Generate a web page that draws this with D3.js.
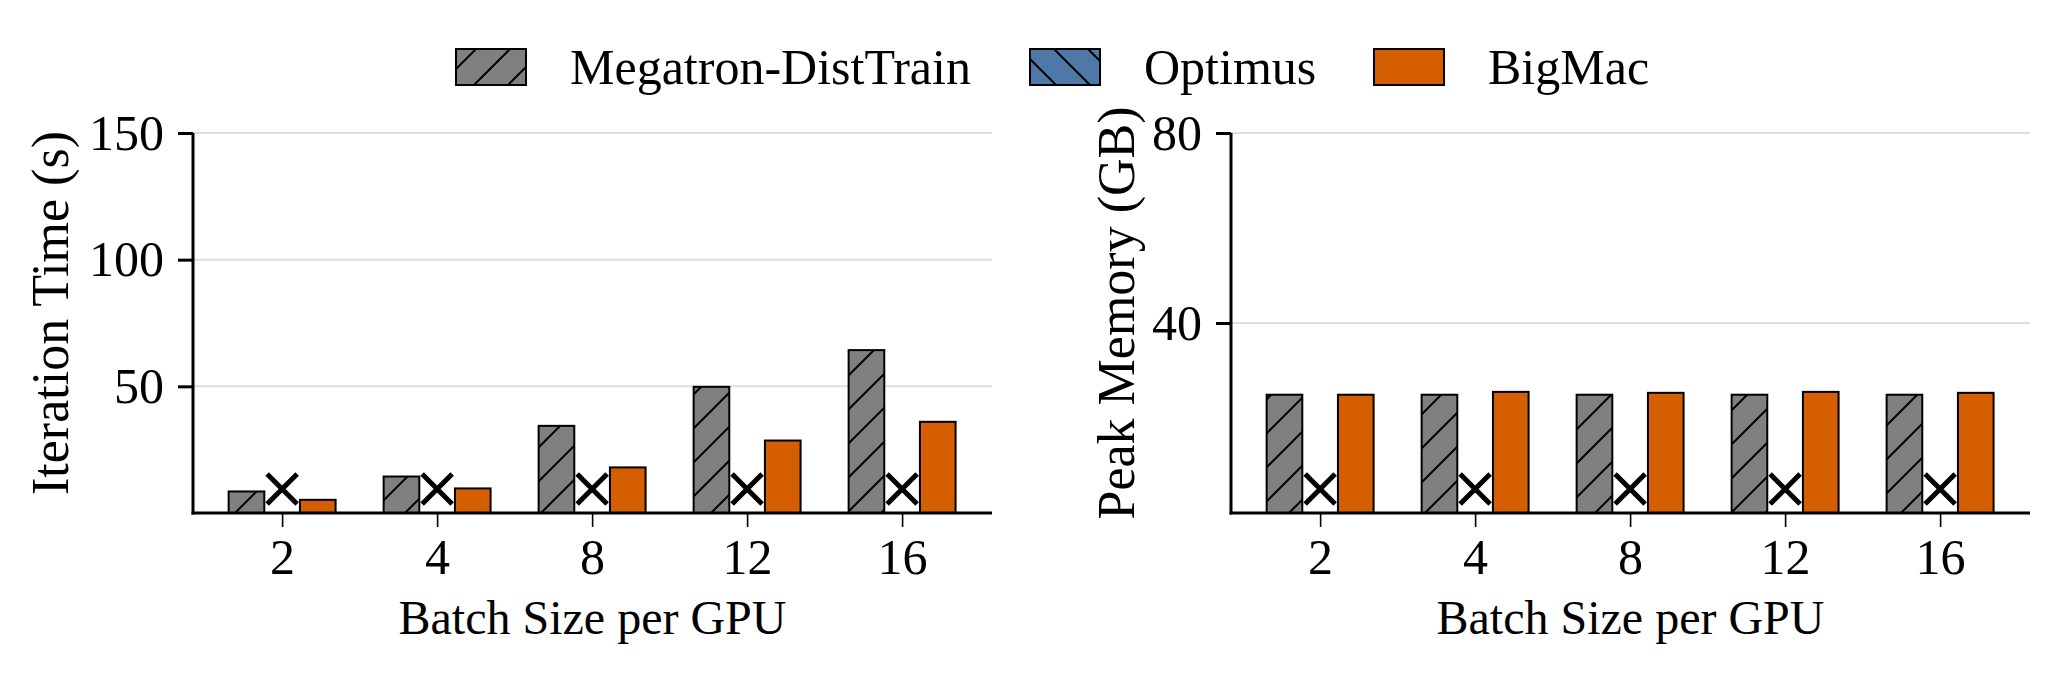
<!DOCTYPE html>
<html>
<head>
<meta charset="utf-8">
<script src="https://cdn.jsdelivr.net/npm/d3@7"></script>
<style>
	body { margin: 0; background: #fff; }
	text { font-family: "Liberation Serif", "Times New Roman", serif; fill: #000; }
	.tick-label { font-size: 50px; }
	.x-label { font-size: 48px; }
	.y-label { font-size: 52px; }
	.legend-label { font-size: 50px; }
</style>
</head>
<body>
<svg id="fig" width="2058" height="674"></svg>
<script>
// categories
const batchSizes = ['2', '4', '8', '12', '16'];
const systems = ['Megatron-DistTrain', 'Optimus', 'BigMac'];

// iteration time (s); Optimus runs out of memory -> null
const timeMegatron = [8.5, 14.4, 34.4, 49.8, 64.3];
const timeOptimus = [null, null, null, null, null];
const timeBigMac = [5.2, 9.7, 18.0, 28.6, 36.0];

// peak memory (GB)
const memMegatron = [24.9, 24.9, 24.9, 24.9, 24.9];
const memOptimus = [null, null, null, null, null];
const memBigMac = [24.9, 25.5, 25.3, 25.5, 25.3];

// axis ticks
const timeTicks = [50, 100, 150];
const memTicks = [40, 80];

const colors = ['#808080', '#4e79a7', '#d55e00'];
const hatches = ['url(#hatchFwd)', 'url(#hatchBack)', null];

const svg = d3.select('#fig');
svg.append('rect').attr('width', 2058).attr('height', 674).attr('fill', '#fff');

//hatch patterns like matplotlib '/' and '\\'
const defs = svg.append('defs');
const hatchSize = 34;
const makeHatch = (id, fill, forward) => {
	const p = defs.append('pattern')
		.attr('id', id)
		.attr('patternUnits', 'userSpaceOnUse')
		.attr('width', hatchSize)
		.attr('height', hatchSize);
	p.append('rect')
		.attr('width', hatchSize)
		.attr('height', hatchSize)
		.attr('fill', fill);
	const s = hatchSize;
	const d = forward
		? `M0,${s} L${s},0 M${-s / 2},${s / 2} L${s / 2},${-s / 2} M${s / 2},${s * 1.5} L${s * 1.5},${s / 2}`
		: `M0,0 L${s},${s} M${-s / 2},${s / 2} L${s / 2},${s * 1.5} M${s / 2},${-s / 2} L${s * 1.5},${s / 2}`;
	p.append('path')
		.attr('d', d)
		.attr('stroke', '#000')
		.attr('stroke-width', 2);
}
makeHatch('hatchFwd', colors[0], true);
makeHatch('hatchBack', colors[1], false);

//one bar panel
const barPanel = (selection, props) => {
	const {
		left, right, top, bottom,
		yMax, ticks, yLabel, labelX,
		series
	} = props;

	const xScale = d3.scaleLinear()
		.domain([-0.575, 4.58])
		.range([left, right]);

	const yScale = d3.scaleLinear()
		.domain([0, yMax])
		.range([bottom, top]);

	const barWidth = 0.23;
	const offsets = [-0.23, 0, 0.23];

	const g = selection.append('g');

	//grid
	g.selectAll('.grid').data(ticks)
		.enter().append('line')
			.attr('x1', left)
			.attr('x2', right)
			.attr('y1', d => yScale(d))
			.attr('y2', d => yScale(d))
			.attr('stroke', '#dedede')
			.attr('stroke-width', 2);

	//bars
	series.forEach((values, si) => {
		const rows = values.map((v, i) => ({ v, i }));
		g.selectAll(`.bar-${si}`).data(rows.filter(d => d.v !== null))
			.enter().append('rect')
				.attr('x', d => xScale(d.i + offsets[si] - barWidth / 2))
				.attr('width', xScale(barWidth) - xScale(0))
				.attr('y', d => yScale(d.v))
				.attr('height', d => yScale(0) - yScale(d.v))
				.attr('fill', hatches[si] || colors[si])
				.attr('stroke', '#000')
				.attr('stroke-width', 2);

		//out-of-memory marker
		const markY = yMax * 0.063;
		const r = 15;
		g.selectAll(`.oom-${si}`).data(rows.filter(d => d.v === null))
			.enter().append('path')
				.attr('d', d => {
					const cx = xScale(d.i + offsets[si]);
					const cy = yScale(markY);
					return `M${cx - r},${cy - r}L${cx + r},${cy + r}M${cx - r},${cy + r}L${cx + r},${cy - r}`;
				})
				.attr('stroke', '#000')
				.attr('stroke-width', 5)
				.attr('fill', 'none');
	});

	//axes
	const yAxis = d3.axisLeft(yScale)
		.tickValues(ticks)
		.tickSize(15)
		.tickPadding(14);
	const yAxisG = g.append('g')
		.attr('transform', `translate(${left},0)`)
		.call(yAxis);
	yAxisG.select('.domain').attr('stroke-width', 3).attr('d', `M0,${top}V${bottom + 1.5}`);
	yAxisG.selectAll('.tick line').attr('stroke-width', 3);
	yAxisG.selectAll('.tick text')
		.attr('class', 'tick-label')
		.attr('font-family', null)
		.attr('font-size', null);

	const xAxis = d3.axisBottom(xScale)
		.tickValues(d3.range(batchSizes.length))
		.tickFormat(i => batchSizes[i])
		.tickSize(14)
		.tickPadding(11);
	const xAxisG = g.append('g')
		.attr('transform', `translate(0,${bottom})`)
		.call(xAxis);
	xAxisG.select('.domain').attr('stroke-width', 3).attr('d', `M${left - 1.5},0H${right}`);
	xAxisG.selectAll('.tick line').attr('stroke-width', 1.6);
	xAxisG.selectAll('.tick text')
		.attr('class', 'tick-label')
		.attr('font-family', null)
		.attr('font-size', null);

	//axis labels
	g.append('text')
		.attr('class', 'x-label')
		.attr('text-anchor', 'middle')
		.attr('x', (left + right) / 2)
		.attr('y', 634)
		.text('Batch Size per GPU');

	g.append('text')
		.attr('class', 'y-label')
		.attr('text-anchor', 'middle')
		.attr('transform', `translate(${labelX},313) rotate(-90)`)
		.text(yLabel);
}

svg.call(barPanel, {
	left: 193, right: 992, top: 133, bottom: 513,
	yMax: 150, ticks: timeTicks,
	yLabel: 'Iteration Time (s)', labelX: 68,
	series: [timeMegatron, timeOptimus, timeBigMac]
});

svg.call(barPanel, {
	left: 1231, right: 2030, top: 133, bottom: 513,
	yMax: 80, ticks: memTicks,
	yLabel: 'Peak Memory (GB)', labelX: 1134,
	series: [memMegatron, memOptimus, memBigMac]
});

//legend
const legendX = [456, 1030, 1374];
const legend = svg.append('g').attr('transform', 'translate(0,49)');
systems.forEach((name, i) => {
	legend.append('rect')
		.attr('x', legendX[i])
		.attr('y', 0)
		.attr('width', 70)
		.attr('height', 36)
		.attr('fill', hatches[i] || colors[i])
		.attr('stroke', '#000')
		.attr('stroke-width', 2);
	legend.append('text')
		.attr('class', 'legend-label')
		.attr('x', legendX[i] + 114)
		.attr('y', 35)
		.text(name);
});
</script>
</body>
</html>
